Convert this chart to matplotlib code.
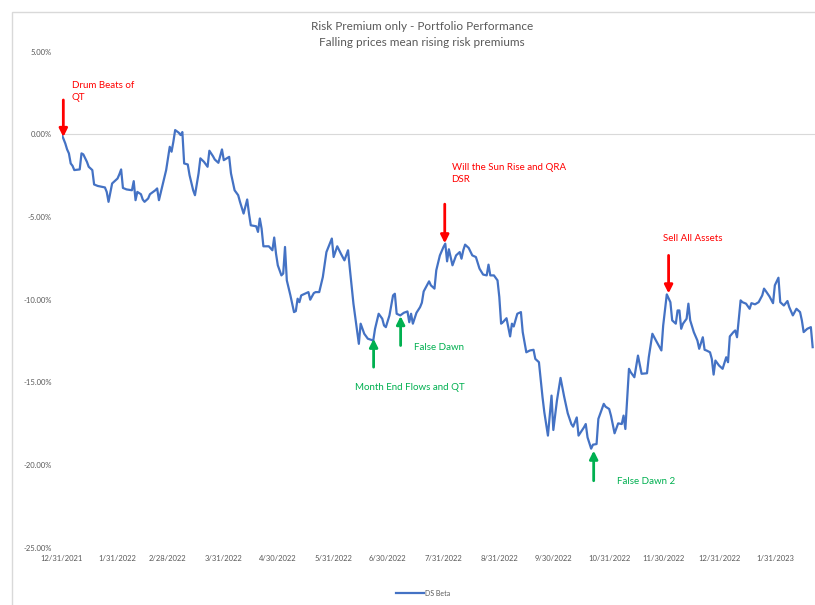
import numpy as np
import matplotlib
matplotlib.use("Agg")
import matplotlib.pyplot as plt
import matplotlib.dates as mdates
from matplotlib.patches import Rectangle

plt.rcParams['font.family'] = ['Lato', 'DejaVu Sans']

# series: days after 12/31/2021, cumulative return in %
start = np.datetime64('2021-12-31')
days = [0, 2, 3, 4, 5, 6, 7, 10, 11, 12, 14, 15, 17, 18, 20, 24, 25, 26, 28, 31,
        32, 33, 34, 36, 39, 40, 41, 42, 44, 45, 46, 48, 49, 52, 53, 54, 56, 58, 60, 61,
        62, 63, 65, 66, 67, 68, 70, 71, 73, 74, 76, 77, 79, 81, 82, 84, 85, 87, 89, 90,
        93, 94, 96, 98, 99, 101, 103, 104, 105, 108, 109, 110, 111, 112, 115, 117, 118, 119, 120, 122,
        123, 124, 125, 127, 129, 130, 131, 132, 133, 135, 137, 138, 140, 141, 143, 145, 147, 150, 151, 153,
        155, 157, 159, 160, 162, 165, 166, 168, 170, 173, 174, 176, 178, 179, 180, 182, 184, 185, 186, 188,
        190, 192, 193, 194, 195, 197, 199, 200, 201, 204, 205, 207, 208, 210, 212, 213, 214, 215, 217, 219,
        221, 222, 223, 224, 226, 228, 230, 232, 234, 236, 237, 238, 240, 242, 243, 244, 245, 247, 249, 250,
        251, 253, 255, 256, 258, 260, 262, 263, 265, 267, 268, 270, 272, 273, 275, 277, 279, 281, 283, 284,
        286, 287, 290, 291, 292, 294, 295, 297, 298, 301, 302, 304, 305, 307, 309, 311, 312, 313, 315, 316,
        318, 320, 322, 325, 326, 328, 330, 333, 334, 336, 338, 339, 341, 342, 343, 344, 345, 347, 348, 349,
        351, 353, 354, 356, 357, 358, 360, 361, 362, 363, 365, 367, 368, 369, 370, 371, 373, 374, 375, 377,
        378, 380, 382, 383, 385, 387, 389, 390, 391, 393, 395, 396, 398, 399, 401, 403, 404, 406, 408, 410,
        411, 412, 414, 416, 417]
ds_beta = [0.00, -0.55, -0.91, -1.15, -1.76, -1.90, -2.16, -2.12, -1.15, -1.21, -1.66, -1.96, -2.16, -3.03, -3.12, -3.21, -3.48, -4.08, -2.97, -2.67,
           -2.42, -2.12, -3.24, -3.33, -3.38, -2.83, -3.98, -3.48, -3.62, -3.94, -4.08, -3.88, -3.62, -3.38, -3.27, -3.98, -3.07, -2.16, -0.75, -1.05,
           -0.45, 0.26, 0.10, -0.04, 0.14, -1.76, -1.82, -2.47, -3.38, -3.68, -2.36, -1.45, -1.66, -1.96, -0.99, -1.32, -1.52, -1.72, -0.91, -1.56,
           -1.36, -2.36, -3.38, -3.68, -4.08, -4.79, -3.94, -4.79, -5.50, -5.56, -5.90, -5.09, -5.70, -6.77, -6.77, -7.01, -6.24, -7.21, -7.92, -8.53,
           -8.42, -6.81, -8.83, -9.74, -10.75, -10.69, -9.94, -10.15, -9.74, -9.64, -9.54, -10.00, -9.60, -9.54, -9.54, -8.63, -7.12, -6.30, -7.42, -6.77,
           -7.21, -7.62, -7.01, -8.12, -10.24, -12.67, -11.45, -12.06, -12.36, -12.47, -11.76, -10.85, -11.15, -11.56, -11.66, -10.95, -9.74, -9.64, -10.85, -10.95,
           -10.79, -10.71, -11.36, -10.85, -11.45, -10.79, -10.45, -10.18, -9.50, -8.89, -9.13, -9.33, -8.22, -7.32, -6.81, -6.61, -7.68, -6.95, -7.92, -7.32,
           -7.12, -7.52, -7.01, -6.67, -6.87, -7.32, -7.42, -8.12, -8.48, -8.53, -7.88, -8.53, -8.53, -8.83, -9.84, -11.45, -11.36, -11.12, -12.22, -11.45,
           -11.62, -10.85, -10.75, -11.96, -13.18, -13.07, -13.03, -13.58, -13.78, -15.90, -16.81, -18.22, -15.80, -17.88, -16.10, -14.73, -15.86, -16.87, -17.52, -17.68,
           -17.12, -18.22, -17.72, -17.52, -18.33, -19.01, -18.77, -18.73, -17.21, -16.30, -16.47, -16.61, -17.01, -18.08, -17.48, -17.52, -17.01, -17.82, -14.18, -14.39,
           -14.69, -13.38, -14.48, -14.45, -13.48, -12.06, -12.47, -13.07, -11.56, -9.68, -10.15, -11.25, -11.45, -10.65, -10.65, -11.76, -11.45, -11.15, -10.24, -11.25,
           -11.96, -12.47, -12.97, -12.27, -13.03, -13.07, -13.18, -13.58, -14.53, -13.68, -13.98, -14.18, -13.84, -13.48, -13.78, -12.22, -11.96, -11.86, -12.27, -10.04,
           -10.15, -10.24, -10.55, -10.21, -10.28, -10.15, -9.74, -9.33, -9.48, -9.80, -10.21, -9.13, -8.67, -10.15, -10.35, -10.08, -10.45, -10.95, -10.55, -10.75,
           -11.25, -11.96, -11.76, -11.66, -12.87]

tick_dates = ['2021-12-31', '2022-01-31', '2022-02-28', '2022-03-31', '2022-04-30',
              '2022-05-31', '2022-06-30', '2022-07-31', '2022-08-31', '2022-09-30',
              '2022-10-31', '2022-11-30', '2022-12-31', '2023-01-31']
y_ticks = [5, 0, -5, -10, -15, -20, -25]

RED = '#ff0000'
GREEN = '#00b050'
GREY = '#595959'

W, H = 815, 605
fig = plt.figure(figsize=(W / 100, H / 100), dpi=100)
fig.patches.append(Rectangle((12 / W, -0.05), 1.0, 1 - 12 / H + 0.05, transform=fig.transFigure,
                             fill=False, edgecolor='#d9d9d9', lw=1.0))
ax = fig.add_axes([61.7 / W, 1 - 547.7 / H, 1 - 61.7 / W, (547.7 - 51.7) / H])


def day(n):
    return mdates.date2num(start + np.timedelta64(1, 'D') * 0) + n


dates = start + np.array(days).astype('timedelta64[D]')
ax.plot(dates, ds_beta, color='#4472c4', lw=1.6, label='DS Beta', zorder=3)
ax.axhline(0, color='#d9d9d9', lw=0.8, zorder=1)

ax.set_xlim(day(0), day(418.3))
ax.set_ylim(-25, 5)
ax.set_yticks(y_ticks)
ax.set_yticklabels(['%.2f%%' % v for v in y_ticks])
tk = [np.datetime64(t) for t in tick_dates]
ax.set_xticks([mdates.date2num(t) for t in tk])
ax.set_xticklabels(['%d/%d/%d' % (t.astype(object).month, t.astype(object).day, t.astype(object).year) for t in tk])
ax.tick_params(axis='both', length=0, colors=GREY, labelsize=5.5)
ax.tick_params(axis='y', pad=7)
ax.tick_params(axis='x', pad=5)
for s in ax.spines.values():
    s.set_visible(False)


def note(label, color, x, tip, tail, tx, ty, va='center'):
    ax.annotate('', xy=(day(x), tip), xytext=(day(x), tail),
                arrowprops=dict(arrowstyle='-|>', color=color, lw=2.0, mutation_scale=12,
                                shrinkA=0, shrinkB=0), zorder=4)
    ax.text(day(tx), ty, label, color=color, fontsize=7, ha='left', va=va, linespacing=1.45)


note('Drum Beats of\nQT', RED, 0.9, -0.16, 2.08, 5.7, 3.23, va='top')
note('Will the Sun Rise and QRA\nDSR', RED, 212.7, -6.59, -4.22, 216.5, -1.74, va='top')
note('Sell All Assets', RED, 337.0, -9.62, -7.32, 334.0, -6.28)
note('Month End Flows and QT', GREEN, 173.2, -12.36, -14.08, 162.9, -15.32)
note('False Dawn', GREEN, 188.2, -10.99, -12.77, 195.6, -12.89)
note('False Dawn 2', GREEN, 295.4, -19.13, -20.95, 308.2, -21.01)

fig.text(422 / W, 1 - 26 / H, 'Risk Premium only - Portfolio Performance', ha='center', va='center',
         fontsize=8.5, color=GREY)
fig.text(422 / W, 1 - 43 / H, 'Falling prices mean rising risk premiums', ha='center', va='center',
         fontsize=8.5, color=GREY)

ax.legend(loc='center', bbox_to_anchor=(423 / W, 1 - 593 / H), bbox_transform=fig.transFigure,
          frameon=False, fontsize=5, handlelength=4, labelcolor=GREY, handletextpad=0.1)

fig.savefig('out.png', dpi=100)
